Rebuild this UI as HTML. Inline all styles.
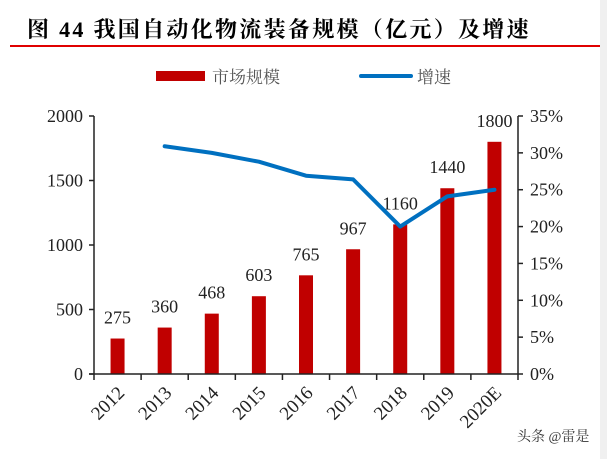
<!DOCTYPE html>
<html><head><meta charset="utf-8"><style>
body{margin:0;background:#fff;width:607px;height:459px;overflow:hidden}
svg text{font-family:"Liberation Serif","Noto Serif CJK SC",serif}
</style></head><body>
<svg width="607" height="459" viewBox="0 0 607 459">
<rect x="600" y="0" width="7" height="459" fill="#f0f0f0"/>
<text x="27" y="37" font-size="22" font-weight="bold" fill="#000" letter-spacing="2.3">图 44  我国自动化物流装备规模（亿元）及增速</text>
<line x1="10" y1="46" x2="600" y2="46" stroke="#e00000" stroke-width="2"/>
<g>
<rect x="156" y="71" width="49" height="10" fill="#c00000"/>
<text x="212" y="83" font-size="17" fill="#555">市场规模</text>
<line x1="361" y1="76" x2="411" y2="76" stroke="#0070c0" stroke-width="4" stroke-linecap="round"/>
<text x="417" y="83" font-size="17" fill="#555">增速</text>
</g>
<g id="plot"></g>
<text x="517" y="441" font-size="14" fill="#333" font-family="Liberation Sans,Noto Sans CJK SC,sans-serif">头条 @雷是</text>
</svg>
<script>
const categories=["2012","2013","2014","2015","2016","2017","2018","2019","2020E"];
const marketValues=[275,360,468,603,765,967,1160,1440,1800];
const growthValues=[null,30.9,30.0,28.8,26.9,26.4,20.0,24.1,25.0];
const leftTicks=[0,500,1000,1500,2000];
const rightTicks=[0,5,10,15,20,25,30,35];
const NS="http://www.w3.org/2000/svg";
const g=document.getElementById('plot');
const X0=94,X1=518,Y0=374,Y1=116;
const band=(X1-X0)/categories.length;
const xC=i=>X0+band*(i+0.5);
const yL=v=>Y0-(v/2000)*(Y0-Y1);
const yR=v=>Y0-(v/35)*(Y0-Y1);
function mk(t,a){const e=document.createElementNS(NS,t);for(const k in a)e.setAttribute(k,a[k]);g.appendChild(e);return e;}
marketValues.forEach((v,i)=>{
 const r=mk('rect',{x:xC(i)-7,y:yL(v),width:14,height:Y0-yL(v),fill:'#c00000'});
 
 
 const t=mk('text',{x:xC(i),y:yL(v)-15,'font-size':18,'text-anchor':'middle',fill:'#222'});
 t.textContent=v;
 
 
});
const la=mk('line',{x1:X0,y1:Y1,x2:X0,y2:Y0,stroke:'#222','stroke-width':1.5});


const ra=mk('line',{x1:X1,y1:Y1,x2:X1,y2:Y0,stroke:'#222','stroke-width':1.5});


const xa=mk('line',{x1:X0-5,y1:Y0,x2:X1,y2:Y0,stroke:'#222','stroke-width':1.5});


leftTicks.forEach(v=>{
 mk('line',{x1:X0-5,y1:yL(v),x2:X0,y2:yL(v),stroke:'#222','stroke-width':1.5});
 const t=mk('text',{x:X0-11,y:yL(v)+6,'font-size':18,'text-anchor':'end',fill:'#222'});
 t.textContent=v;
 
 
});
rightTicks.forEach(v=>{
 mk('line',{x1:X1,y1:yR(v),x2:X1+5,y2:yR(v),stroke:'#222','stroke-width':1.5});
 const t=mk('text',{x:X1+12,y:yR(v)+6,'font-size':18,fill:'#222'});
 t.textContent=v+'%';
 
 
});
for(let i=0;i<=categories.length;i++){mk('line',{x1:X0+band*i,y1:Y0,x2:X0+band*i,y2:Y0+6,stroke:'#222','stroke-width':1.5});}
categories.forEach((c,i)=>{
 const x=xC(i)+8,y=Y0+20;
 const t=mk('text',{x:x,y:y,'font-size':19,'text-anchor':'end',fill:'#222',transform:`rotate(-45 ${x} ${y})`});
 t.textContent=c;
 
 
});
let d='';
growthValues.forEach((v,i)=>{if(v==null)return;d+=(d?'L':'M')+xC(i)+' '+yR(v);});
const p=mk('path',{d:d,fill:'none',stroke:'#0070c0','stroke-width':4,'stroke-linejoin':'round','stroke-linecap':'round'});


</script>
</body></html>
